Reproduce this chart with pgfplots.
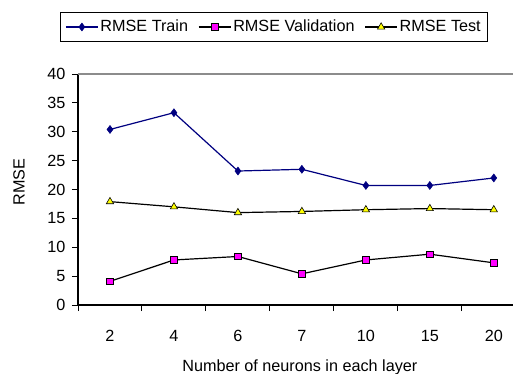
\documentclass[border=0pt]{standalone}
\usepackage{pgfplots}
\pgfplotsset{compat=1.18}
\usepackage{fontspec}
\setmainfont{Liberation Sans}

\definecolor{trainblue}{RGB}{0,0,128}
\definecolor{valmag}{RGB}{255,0,255}
\definecolor{testyel}{RGB}{255,255,0}

% RMSE per network size (category index 0..6 -> 2,4,6,7,10,15,20 neurons)
\pgfplotstableread{
x train
0 30.4
1 33.3
2 23.2
3 23.5
4 20.7
5 20.7
6 22.0
}\traindata
\pgfplotstableread{
x val
0 4.1
1 7.8
2 8.4
3 5.4
4 7.8
5 8.8
6 7.3
}\valdata
\pgfplotstableread{
x test
0 17.9
1 17.0
2 16.0
3 16.2
4 16.5
5 16.7
6 16.5
}\testdata

\begin{document}
\fontsize{16.2bp}{19bp}\selectfont
\begin{tikzpicture}
\begin{axis}[
  at={(78bp,-305bp)}, anchor=south west,
  scale only axis, width=435bp, height=231bp,
  xmin=-0.5, xmax=6.3, ymin=0, ymax=40,
  axis x line*=bottom, axis y line*=left,
  axis line style={line width=1.1bp, -},
  xtick={-0.5,0.5,1.5,2.5,3.5,4.5,5.5},
  xticklabels={},
  extra x ticks={0,1,2,3,4,5,6},
  extra x tick labels={2,4,6,7,10,15,20},
  extra x tick style={major tick length=0pt, grid=none,
    xticklabel style={yshift=-20bp}},
  ytick={0,5,...,40},
  yticklabel style={xshift=-1bp},
  tick align=outside,
  major tick length=6bp,
  tick style={black, line width=1bp},
  /pgf/number format/assume math mode=true,
  xlabel={Number of neurons in each layer},
  ylabel={RMSE},
  every axis x label/.style={at={(axis description cs:0.51,-0.2684)}, anchor=center},
  every axis y label/.style={at={(axis description cs:-0.1356,0.532)}, rotate=90, anchor=center},
  legend columns=3,
  legend style={at={(axis description cs:0.4506,1.2035)}, anchor=center,
    draw=black, line width=0.9bp, inner xsep=5bp, inner ysep=5bp,
    /tikz/every even column/.append style={column sep=8bp}},
  legend image code/.code={%
    \draw[mark repeat=2,mark phase=2] plot coordinates {(0bp,0bp) (16bp,0bp) (32bp,0bp)};},
  clip=false,
]
\addplot[trainblue, line width=1.2bp, mark=diamond*, mark size=4bp,
  mark options={fill=trainblue, draw=trainblue, line width=0.5bp}]
  table[x=x, y=train] {\traindata};
\addlegendentry{RMSE Train}
\addplot[black, line width=1.2bp, mark=square*, mark size=3.2bp,
  mark options={fill=valmag, draw=black, line width=0.6bp}]
  table[x=x, y=val] {\valdata};
\addlegendentry{RMSE Validation}
\addplot[black, line width=1.2bp, mark=triangle*, mark size=4.2bp,
  mark options={fill=testyel, draw=black, line width=0.6bp}]
  table[x=x, y=test] {\testdata};
\addlegendentry{RMSE Test}
\draw[black!45, line width=1.1bp] (rel axis cs:0,1) -- (rel axis cs:1.05,1);
\end{axis}
\pgfresetboundingbox
\path[use as bounding box] (0,0) rectangle (513bp,-374bp);
\end{tikzpicture}
\end{document}
